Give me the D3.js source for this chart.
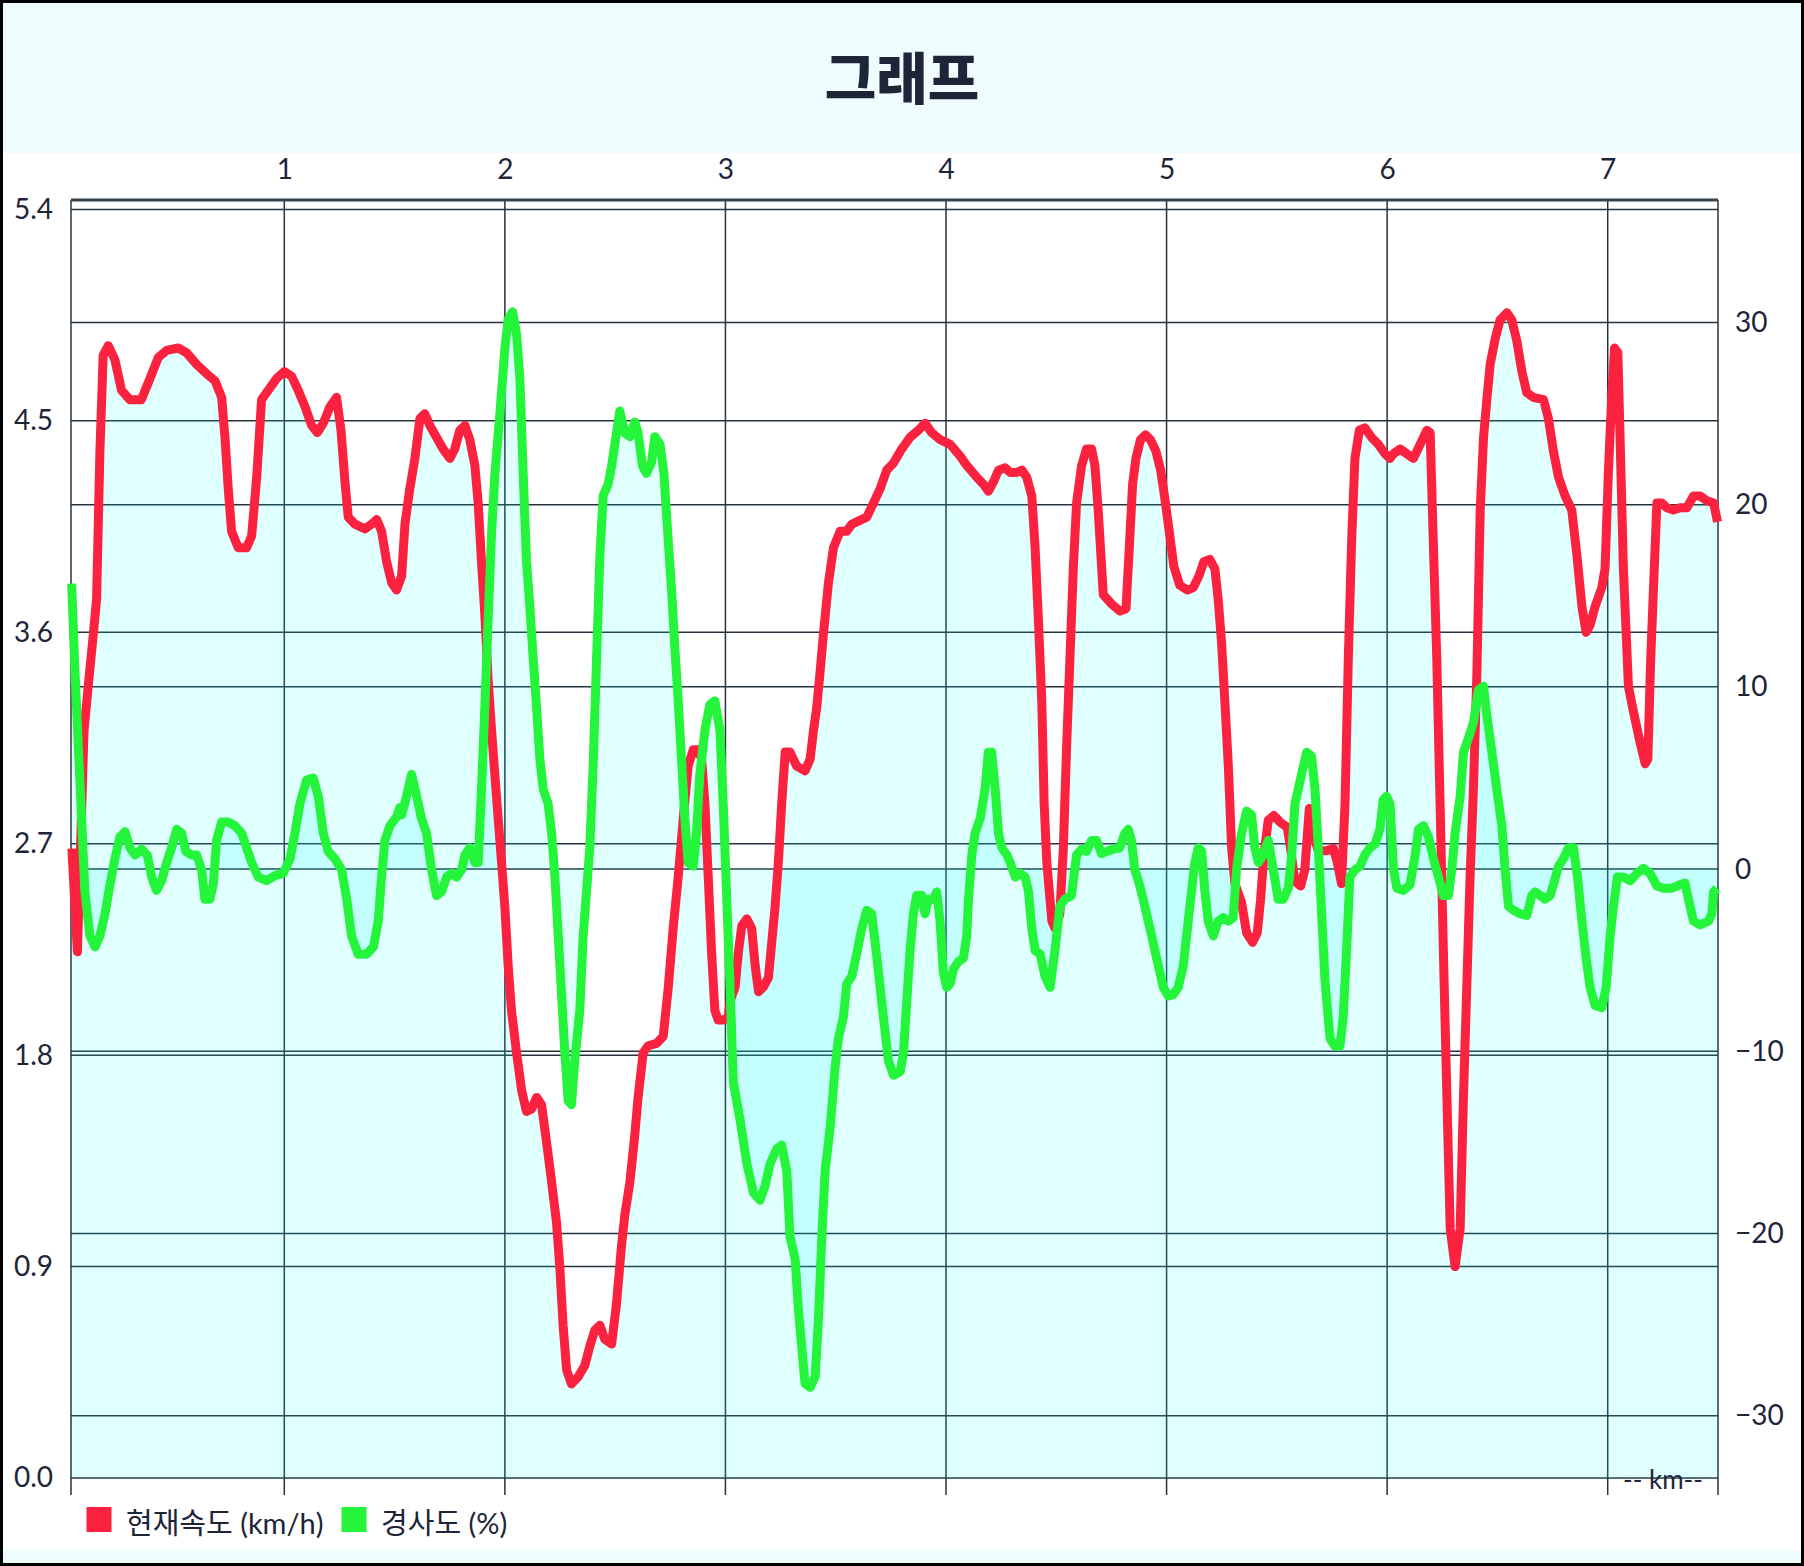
<!DOCTYPE html>
<html>
<head>
<meta charset="utf-8">
<script src="https://cdn.jsdelivr.net/npm/d3@7"></script>
<style>
body { margin: 0; background: #fff; }
svg text { font-family: Lato, "Noto Sans CJK KR", sans-serif; fill: #1e2538; }
</style>
</head>
<body>
<div id="chart"></div>
<script>
// distance ticks (km) and axis tick values
var kmTicks = [1, 2, 3, 4, 5, 6, 7];
var speedTicks = [0, 0.9, 1.8, 2.7, 3.6, 4.5, 5.4];
var gradeTicks = [-30, -20, -10, 0, 10, 20, 30];
var legendNames = ["현재속도 (km/h)", "경사도 (%)"];

// 현재속도 : [km, km/h]
var speedPoints = [
  [0.037,2.68],[0.062,2.24],[0.092,3.18],[0.111,3.37],[0.134,3.59],[0.149,3.74],[0.164,4.37],[0.179,4.78],
  [0.202,4.82],[0.232,4.76],[0.262,4.63],[0.300,4.59],[0.352,4.59],[0.391,4.68],[0.429,4.77],[0.467,4.80],
  [0.519,4.81],[0.557,4.79],[0.603,4.74],[0.648,4.70],[0.686,4.67],[0.716,4.60],[0.731,4.43],[0.746,4.21],
  [0.761,4.03],[0.791,3.96],[0.829,3.96],[0.852,4.01],[0.875,4.26],[0.897,4.59],[0.927,4.63],[0.965,4.68],
  [1.000,4.71],[1.033,4.69],[1.063,4.63],[1.094,4.56],[1.124,4.48],[1.150,4.45],[1.177,4.49],[1.207,4.56],
  [1.237,4.60],[1.257,4.46],[1.275,4.24],[1.290,4.09],[1.320,4.06],[1.366,4.04],[1.396,4.06],[1.419,4.08],
  [1.441,4.03],[1.464,3.90],[1.487,3.81],[1.509,3.78],
  [1.532,3.84],[1.547,4.06],[1.569,4.21],[1.592,4.34],[1.615,4.51],[1.637,4.53],[1.660,4.48],[1.690,4.43],
  [1.720,4.38],[1.751,4.34],[1.773,4.38],[1.796,4.46],[1.819,4.48],[1.841,4.42],[1.864,4.31],[1.879,4.15],
  [1.894,3.90],[1.909,3.68],[1.924,3.40],[1.940,3.18],[1.962,2.90],[1.985,2.62],[2.000,2.43],[2.015,2.18],
  [2.030,1.99],[2.053,1.81],[2.076,1.65],[2.098,1.56],[2.121,1.57],[2.144,1.62],[2.166,1.59],[2.189,1.43],
  [2.212,1.26],[2.234,1.09],[2.249,0.90],[2.264,0.65],[2.280,0.46],[2.302,0.40],[2.332,0.43],[2.363,0.48],
  [2.385,0.56],[2.408,0.63],[2.431,0.65],[2.453,0.59],[2.484,0.57],[2.506,0.74],[2.529,0.99],[2.544,1.12],
  [2.567,1.26],[2.589,1.46],[2.604,1.62],[2.627,1.81],[2.650,1.84],[2.688,1.85],[2.718,1.88],[2.741,2.09],
  [2.763,2.34],[2.786,2.56],[2.809,2.81],[2.831,3.03],[2.854,3.10],[2.877,3.10],[2.892,3.06],[2.907,2.87],
  [2.922,2.56],[2.937,2.24],[2.952,1.99],[2.967,1.95],[2.990,1.95],[3.013,1.96],
  [3.021,2.03],[3.044,2.09],[3.059,2.24],[3.074,2.35],[3.097,2.38],[3.119,2.34],[3.135,2.18],[3.150,2.07],
  [3.172,2.09],[3.195,2.13],[3.210,2.28],[3.225,2.43],[3.240,2.62],[3.255,2.87],[3.271,3.09],[3.293,3.09],
  [3.323,3.03],[3.361,3.01],[3.384,3.06],[3.399,3.18],[3.414,3.28],[3.429,3.43],[3.444,3.59],[3.467,3.81],
  [3.490,3.96],[3.520,4.03],[3.550,4.03],[3.573,4.06],[3.595,4.07],[3.641,4.09],[3.671,4.15],[3.701,4.21],
  [3.731,4.29],[3.762,4.32],[3.799,4.38],[3.837,4.43],[3.875,4.46],[3.905,4.49],[3.935,4.45],[3.973,4.42],
  [4.019,4.40],[4.064,4.35],[4.094,4.31],[4.139,4.26],[4.170,4.23],[4.192,4.20],[4.215,4.24],[4.238,4.29],
  [4.268,4.30],[4.291,4.28],[4.321,4.28],[4.344,4.29],[4.366,4.26],[4.389,4.18],[4.404,3.96],[4.419,3.65],
  [4.434,3.31],[4.445,2.87],[4.457,2.62],[4.480,2.37],
  [4.494,2.34],[4.516,2.40],[4.532,2.68],[4.547,3.12],[4.562,3.49],[4.577,3.87],[4.592,4.15],[4.615,4.31],
  [4.637,4.38],[4.660,4.38],[4.675,4.31],[4.690,4.12],[4.713,3.76],[4.751,3.72],[4.789,3.69],[4.816,3.70],
  [4.831,3.96],[4.846,4.23],[4.861,4.34],[4.882,4.42],[4.905,4.44],[4.927,4.42],[4.952,4.37],[4.973,4.29],
  [4.992,4.17],[5.012,4.03],[5.033,3.88],[5.060,3.80],[5.094,3.78],[5.121,3.79],[5.147,3.84],[5.169,3.90],
  [5.196,3.91],[5.219,3.87],[5.234,3.74],[5.249,3.56],[5.264,3.31],[5.280,3.03],[5.295,2.68],[5.310,2.53],
  [5.340,2.45],[5.363,2.32],[5.390,2.28],[5.411,2.32],[5.426,2.46],[5.441,2.65],[5.461,2.80],[5.487,2.82],
  [5.517,2.79],[5.547,2.77],[5.562,2.68],[5.582,2.54],[5.608,2.52],[5.627,2.59],[5.647,2.85],[5.665,2.74],
  [5.688,2.67],[5.725,2.67],[5.756,2.68],[5.774,2.62],[5.793,2.53],[5.809,2.87],[5.824,3.49],[5.839,3.99],
  [5.854,4.34],[5.874,4.46],[5.899,4.47],[5.929,4.43],[5.960,4.40],[5.990,4.36],[6.013,4.34],
  [6.029,4.36],[6.059,4.38],[6.089,4.36],[6.119,4.34],[6.150,4.40],[6.180,4.46],[6.195,4.45],[6.210,3.96],
  [6.225,3.49],[6.240,2.87],[6.255,2.24],[6.271,1.62],[6.286,1.06],[6.308,0.90],[6.331,1.06],[6.346,1.62],
  [6.361,2.09],[6.376,2.56],[6.391,2.93],[6.407,3.43],[6.422,4.12],[6.437,4.43],[6.452,4.59],[6.467,4.74],
  [6.490,4.85],[6.512,4.93],[6.543,4.96],[6.565,4.93],[6.588,4.84],[6.611,4.71],[6.633,4.62],[6.663,4.60],
  [6.709,4.59],[6.731,4.51],[6.754,4.37],[6.777,4.26],[6.807,4.18],[6.837,4.12],[6.860,3.93],[6.883,3.71],
  [6.902,3.60],[6.920,3.63],[6.943,3.71],[6.973,3.79],[6.988,3.87],[7.003,4.28],[7.019,4.62],[7.031,4.81],
  [7.046,4.79],[7.056,4.43],[7.071,3.87],[7.094,3.37],[7.117,3.26],[7.147,3.13],[7.170,3.04],[7.182,3.06],
  [7.195,3.49],[7.211,3.87],[7.223,4.15],[7.245,4.15],[7.268,4.13],[7.298,4.12],[7.328,4.13],[7.359,4.13],
  [7.389,4.18],[7.419,4.18],[7.449,4.16],[7.480,4.15],[7.498,4.07]
];

// 경사도 : [km, %]
var gradePoints = [
  [0.036,15.67],[0.051,10.84],[0.066,6.81],[0.081,2.78],[0.096,-1.25],[0.119,-3.67],[0.142,-4.27],[0.164,-3.67],
  [0.187,-2.46],[0.210,-0.85],[0.232,0.56],[0.255,1.77],[0.278,2.05],[0.300,1.17],[0.323,0.77],[0.353,1.09],
  [0.379,0.77],[0.399,-0.44],[0.421,-1.17],[0.444,-0.64],[0.467,0.36],[0.489,1.17],[0.512,2.18],[0.535,1.97],
  [0.554,0.97],[0.580,0.77],[0.603,0.77],[0.625,-0.04],[0.640,-1.65],[0.663,-1.65],[0.678,-0.85],[0.693,1.57],
  [0.716,2.58],[0.746,2.58],[0.776,2.38],[0.807,1.97],[0.829,1.17],[0.852,0.36],[0.882,-0.44],[0.920,-0.64],
  [0.958,-0.36],[0.995,-0.24],[1.026,0.56],[1.048,1.97],[1.071,3.59],[1.101,4.88],[1.131,5.00],[1.154,3.99],
  [1.177,1.97],[1.199,0.97],[1.230,0.56],[1.260,-0.04],[1.283,-1.65],[1.305,-3.67],[1.335,-4.67],[1.373,-4.67],
  [1.404,-4.27],[1.426,-2.86],[1.441,-0.44],[1.456,1.57],[1.479,2.38],[1.509,2.86],[1.524,3.38],
  [1.532,2.98],[1.554,3.99],[1.577,5.20],[1.600,3.99],[1.622,2.78],[1.645,1.97],[1.668,-0.04],[1.690,-1.45],
  [1.713,-1.25],[1.736,-0.44],[1.758,-0.24],[1.781,-0.44],[1.804,-0.04],[1.819,0.77],[1.841,1.17],[1.864,0.36],
  [1.879,0.36],[1.894,4.39],[1.909,8.82],[1.924,13.66],[1.940,18.49],[1.955,21.72],[1.977,24.94],[2.000,28.57],
  [2.015,30.18],[2.035,30.58],[2.053,29.37],[2.068,26.95],[2.083,21.72],[2.098,16.88],[2.113,14.46],[2.128,11.64],
  [2.144,8.82],[2.159,6.00],[2.174,4.39],[2.196,3.59],[2.212,1.97],[2.227,-0.44],[2.242,-3.67],[2.257,-6.89],
  [2.272,-10.11],[2.287,-12.73],[2.302,-12.93],[2.317,-10.52],[2.340,-7.70],[2.355,-3.67],[2.370,-1.25],[2.385,1.17],
  [2.400,5.60],[2.416,11.64],[2.431,17.28],[2.446,20.51],[2.468,21.11],[2.484,22.12],[2.506,23.93],[2.521,25.14],
  [2.544,23.93],[2.567,23.73],[2.589,24.54],[2.604,23.93],[2.624,22.12],[2.642,21.72],[2.665,22.32],[2.680,23.73],
  [2.703,23.33],[2.721,21.72],[2.736,18.90],[2.756,15.27],[2.771,12.05],[2.786,9.23],[2.801,6.00],[2.816,2.78],
  [2.831,0.36],[2.854,0.16],[2.869,1.97],[2.884,5.20],[2.907,7.61],[2.929,9.03],[2.952,9.23],[2.975,7.61],
  [2.990,3.59],
  [3.021,-6.49],[3.036,-11.72],[3.066,-13.74],[3.097,-16.16],[3.127,-17.77],[3.157,-18.17],[3.180,-17.37],[3.203,-16.16],
  [3.233,-15.35],[3.255,-15.15],[3.278,-16.56],[3.293,-20.19],[3.316,-21.39],[3.331,-24.21],[3.346,-26.23],[3.361,-28.24],
  [3.384,-28.44],[3.407,-27.84],[3.422,-24.62],[3.437,-20.19],[3.452,-16.56],[3.475,-14.14],[3.497,-10.92],[3.512,-9.31],
  [3.535,-8.10],[3.550,-6.29],[3.573,-5.88],[3.595,-4.67],[3.618,-3.26],[3.641,-2.26],[3.663,-2.46],[3.679,-4.07],
  [3.694,-5.68],[3.716,-8.10],[3.739,-10.52],[3.762,-11.32],[3.792,-11.12],[3.807,-10.11],[3.822,-7.29],[3.837,-4.47],
  [3.852,-2.46],[3.867,-1.45],[3.890,-1.45],[3.905,-2.46],[3.920,-1.65],[3.943,-1.65],[3.958,-1.25],[3.973,-2.86],
  [3.988,-5.68],[4.003,-6.49],[4.019,-6.29],[4.034,-5.48],[4.056,-5.08],[4.079,-4.88],[4.094,-3.67],[4.102,-1.65],
  [4.117,0.77],[4.132,1.97],[4.155,2.78],[4.177,4.39],[4.192,6.41],[4.207,6.41],[4.223,4.39],[4.238,1.97],
  [4.253,1.17],[4.276,0.77],[4.291,0.36],[4.314,-0.44],[4.336,-0.24],[4.359,-0.44],[4.374,-1.25],[4.389,-3.26],
  [4.404,-4.47],[4.427,-4.67],[4.449,-5.88],[4.472,-6.49],
  [4.494,-4.47],[4.516,-2.05],[4.539,-1.65],[4.569,-1.45],[4.592,0.77],[4.615,1.09],[4.637,0.97],[4.660,1.57],
  [4.683,1.57],[4.705,0.85],[4.728,0.97],[4.758,1.09],[4.788,1.17],[4.811,1.97],[4.826,2.18],[4.841,1.57],
  [4.856,-0.04],[4.872,-0.64],[4.894,-1.65],[4.917,-2.86],[4.940,-4.07],[4.962,-5.28],[4.985,-6.49],[5.008,-6.97],
  [5.030,-6.89],[5.053,-6.49],[5.076,-5.28],[5.098,-2.86],[5.113,-1.25],[5.128,0.36],[5.144,1.17],[5.159,0.97],
  [5.174,-1.25],[5.189,-2.86],[5.212,-3.67],[5.234,-2.86],[5.257,-2.66],[5.280,-2.86],[5.302,-2.66],[5.317,-0.04],
  [5.340,1.97],[5.363,3.18],[5.385,2.98],[5.400,1.17],[5.416,0.36],[5.438,0.77],[5.461,1.57],[5.484,-0.04],
  [5.506,-1.65],[5.529,-1.65],[5.552,-1.05],[5.567,0.77],[5.582,3.59],[5.597,4.39],[5.612,5.20],[5.635,6.41],
  [5.657,6.20],[5.673,4.39],[5.688,1.17],[5.703,-2.46],[5.718,-6.08],[5.741,-9.31],[5.763,-9.71],[5.786,-9.71],
  [5.801,-8.10],[5.816,-4.47],[5.831,-0.44],[5.854,-0.04],[5.877,0.16],[5.899,0.77],[5.922,1.17],[5.945,1.37],
  [5.967,2.18],[5.982,3.79],[5.997,3.99],[6.013,3.59],
  [6.029,-0.04],[6.044,-1.05],[6.074,-1.17],[6.104,-0.85],[6.127,0.77],[6.142,2.18],[6.165,2.38],[6.187,1.77],
  [6.210,0.56],[6.233,-0.44],[6.255,-1.45],[6.278,-1.45],[6.293,-0.04],[6.308,1.97],[6.331,3.99],[6.346,6.41],
  [6.369,7.21],[6.391,8.02],[6.414,9.83],[6.437,10.03],[6.452,8.42],[6.475,6.41],[6.497,4.39],[6.520,2.38],
  [6.535,-0.04],[6.550,-2.05],[6.573,-2.26],[6.603,-2.46],[6.633,-2.54],[6.656,-1.45],[6.671,-1.25],[6.694,-1.45],
  [6.716,-1.65],[6.739,-1.45],[6.754,-0.85],[6.777,0.16],[6.799,0.56],[6.822,1.17],[6.845,1.17],[6.863,-0.44],
  [6.883,-2.86],[6.902,-4.88],[6.920,-6.49],[6.943,-7.49],[6.973,-7.61],[6.993,-6.49],[7.011,-3.67],[7.026,-2.05],
  [7.044,-0.44],[7.071,-0.44],[7.102,-0.64],[7.132,-0.24],[7.162,0.04],[7.192,-0.24],[7.223,-0.93],[7.253,-1.05],
  [7.291,-1.05],[7.328,-0.85],[7.351,-0.77],[7.366,-1.65],[7.389,-2.86],[7.419,-3.06],[7.457,-2.86],[7.472,-2.46],
  [7.480,-1.25],[7.495,-1.05]
];

var W = 1804, H = 1566;
var plotL = 71, plotR = 1718, plotT = 200, plotB = 1478;
var red = "#fb2240", green = "#24f53a";

var svg = d3.select("#chart").append("svg")
    .attr("width", W)
    .attr("height", H);

// frame and light bands
svg.append("rect").attr("x", 1.5).attr("y", 1.5).attr("width", W - 3).attr("height", H - 3)
    .attr("fill", "#fff").attr("stroke", "#000").attr("stroke-width", 3);
svg.append("rect").attr("x", 3).attr("y", 3).attr("width", W - 6).attr("height", 150).attr("fill", "#effcfe");
svg.append("rect").attr("x", 3).attr("y", 1550).attr("width", W - 6).attr("height", 13).attr("fill", "#effcfe");

svg.append("text")
    .attr("x", W / 2).attr("y", 99)
    .attr("text-anchor", "middle")
    .style("font-family", "'Noto Sans CJK KR', sans-serif")
    .style("font-weight", 900)
    .style("font-size", "56px")
    .text("그래프");

var x = d3.scaleLinear().domain([0.033, 7.5]).range([plotL, plotR]);
var yL = d3.scaleLinear().domain([0, 5.44]).range([plotB, plotT]);
var yR = d3.scaleLinear().domain([-33.42, 36.72]).range([plotB, plotT]);

// grid
var grid = svg.append("g").attr("stroke", "#27343f").attr("stroke-width", 1.5);
grid.selectAll(".hl").data(speedTicks).enter().append("line")
    .attr("x1", plotL).attr("x2", plotR)
    .attr("y1", d => yL(d)).attr("y2", d => yL(d));
grid.selectAll(".hr").data(gradeTicks).enter().append("line")
    .attr("x1", plotL).attr("x2", plotR)
    .attr("y1", d => yR(d)).attr("y2", d => yR(d));
grid.selectAll(".v").data(kmTicks).enter().append("line")
    .attr("x1", d => x(d)).attr("x2", d => x(d))
    .attr("y1", plotT).attr("y2", plotB + 17);
grid.append("line").attr("x1", plotL).attr("x2", plotL).attr("y1", plotT).attr("y2", plotB + 17);
grid.append("line").attr("x1", plotR).attr("x2", plotR).attr("y1", plotT).attr("y2", plotB + 17);
grid.append("line").attr("x1", plotL).attr("x2", plotR).attr("y1", plotT).attr("y2", plotT)
    .attr("stroke-width", 3).attr("stroke", "#37434d");

// filled areas
var speedArea = d3.area().x(d => x(d[0])).y0(yL(0)).y1(d => yL(d[1]));
var gradeArea = d3.area().x(d => x(d[0])).y0(yR(0)).y1(d => yR(d[1]));
svg.append("path").datum(speedPoints).attr("d", speedArea).attr("fill", "rgba(0,255,255,0.12)");
svg.append("path").datum(gradePoints).attr("d", gradeArea).attr("fill", "rgba(0,255,255,0.12)");

// lines
var speedLine = d3.line().x(d => x(d[0])).y(d => yL(d[1]));
var gradeLine = d3.line().x(d => x(d[0])).y(d => yR(d[1]));
svg.append("path").datum(speedPoints).attr("d", speedLine)
    .attr("fill", "none").attr("stroke", red).attr("stroke-width", 9)
    .attr("stroke-linejoin", "round").attr("stroke-linecap", "butt");
svg.append("path").datum(gradePoints).attr("d", gradeLine)
    .attr("fill", "none").attr("stroke", green).attr("stroke-width", 9)
    .attr("stroke-linejoin", "round").attr("stroke-linecap", "butt");

// axes (labels only)
function styleAxis(g) {
    g.select(".domain").remove();
    g.attr("font-family", null).attr("font-size", null);
    g.selectAll("text").style("font-size", "28px").attr("fill", null);
}
svg.append("g").attr("transform", "translate(0,179)")
    .call(d3.axisTop(x).tickValues(kmTicks).tickFormat(d3.format("d")).tickSize(0).tickPadding(0))
    .call(styleAxis);
svg.append("g").attr("transform", "translate(53,0)")
    .call(d3.axisLeft(yL).tickValues(speedTicks).tickFormat(d3.format(".1f")).tickSize(0).tickPadding(0))
    .call(styleAxis);
svg.append("g").attr("transform", "translate(1735,0)")
    .call(d3.axisRight(yR).tickValues(gradeTicks).tickFormat(d3.format("d")).tickSize(0).tickPadding(0))
    .call(styleAxis);

svg.append("text")
    .attr("x", 1663).attr("y", 1489)
    .attr("text-anchor", "middle")
    .style("font-size", "26px")
    .text("-- km--");

// legend
var lx = 86.5;
[red, green].forEach(function (c, i) {
    svg.append("rect").attr("x", lx).attr("y", 1507).attr("width", 25).attr("height", 25).attr("fill", c);
    var t = svg.append("text").attr("x", lx + 39.5).attr("y", 1534)
        .style("font-size", "29px")
        .text(legendNames[i]);
    lx = lx + 39.5 + t.node().getComputedTextLength() + 18;
});
</script>
</body>
</html>
